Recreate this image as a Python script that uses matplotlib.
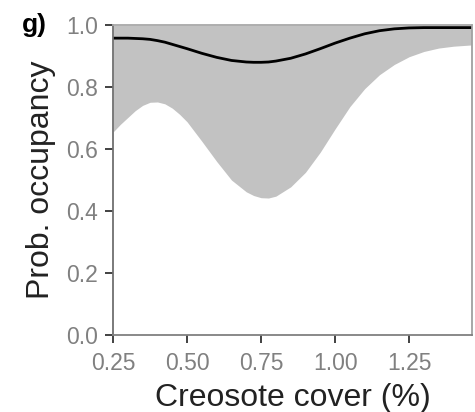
import matplotlib
matplotlib.use("Agg")
import matplotlib.pyplot as plt

plt.rcParams['font.family'] = ['Liberation Sans', 'DejaVu Sans']

# Creosote cover (%) and estimated occupancy curve with its band
cover = [0.25, 0.275, 0.30, 0.325, 0.35, 0.375, 0.40, 0.425, 0.45, 0.475,
         0.50, 0.55, 0.60, 0.65, 0.70, 0.725, 0.75, 0.775, 0.80, 0.85,
         0.90, 0.95, 1.00, 1.05, 1.10, 1.15, 1.20, 1.25, 1.30, 1.35, 1.40,
         1.46]
occ_mean = [0.958, 0.958, 0.958, 0.957, 0.956, 0.954, 0.950, 0.945, 0.938,
            0.931, 0.924, 0.909, 0.896, 0.886, 0.881, 0.880, 0.880, 0.881,
            0.884, 0.893, 0.907, 0.924, 0.942, 0.958, 0.972, 0.982, 0.988,
            0.991, 0.992, 0.992, 0.992, 0.992]
occ_low = [0.655, 0.680, 0.702, 0.724, 0.741, 0.751, 0.752, 0.746, 0.732,
           0.712, 0.688, 0.625, 0.560, 0.500, 0.462, 0.450, 0.443, 0.442,
           0.448, 0.478, 0.525, 0.590, 0.665, 0.737, 0.795, 0.840, 0.873,
           0.898, 0.915, 0.926, 0.932, 0.936]
occ_high = [1.0] * len(cover)

xticks = [0.25, 0.50, 0.75, 1.00, 1.25]
yticks = [0.0, 0.2, 0.4, 0.6, 0.8, 1.0]

fig = plt.figure(figsize=(4.75, 4.12), dpi=100)
ax = fig.add_axes([0.238, 0.187, 0.756, 0.752])

ax.fill_between(cover, occ_low, occ_high, color='#c2c2c2', linewidth=0)
ax.plot(cover, occ_mean, color='black', linewidth=2.0)

ax.set_xlim(0.25, 1.463)
ax.set_ylim(0.0, 1.0)
ax.set_xticks(xticks)
ax.set_xticklabels(['%.2f' % v for v in xticks])
ax.set_yticks(yticks)
ax.set_yticklabels(['%.1f' % v for v in yticks])

ax.spines['left'].set_color('#707070')
ax.spines['bottom'].set_color('#808080')
ax.spines['top'].set_color('#a8a8a8')
ax.spines['right'].set_color('#a0a0a0')
for s in ax.spines.values():
    s.set_linewidth(1.3)

ax.tick_params(axis='both', colors='#333333', labelcolor='#808080',
               labelsize=16.5, length=6, width=1.3)
ax.tick_params(axis='y', pad=5)
ax.tick_params(axis='x', pad=6)

ax.set_xlabel('Creosote cover (%)', fontsize=23, color='#222222', labelpad=6)
ax.set_ylabel('Prob. occupancy', fontsize=23, color='#222222', labelpad=7)

fig.text(0.046, 0.939, 'g)', fontsize=19, fontweight='bold', va='center',
         ha='left', color='black')

fig.savefig('out.png', dpi=100)
